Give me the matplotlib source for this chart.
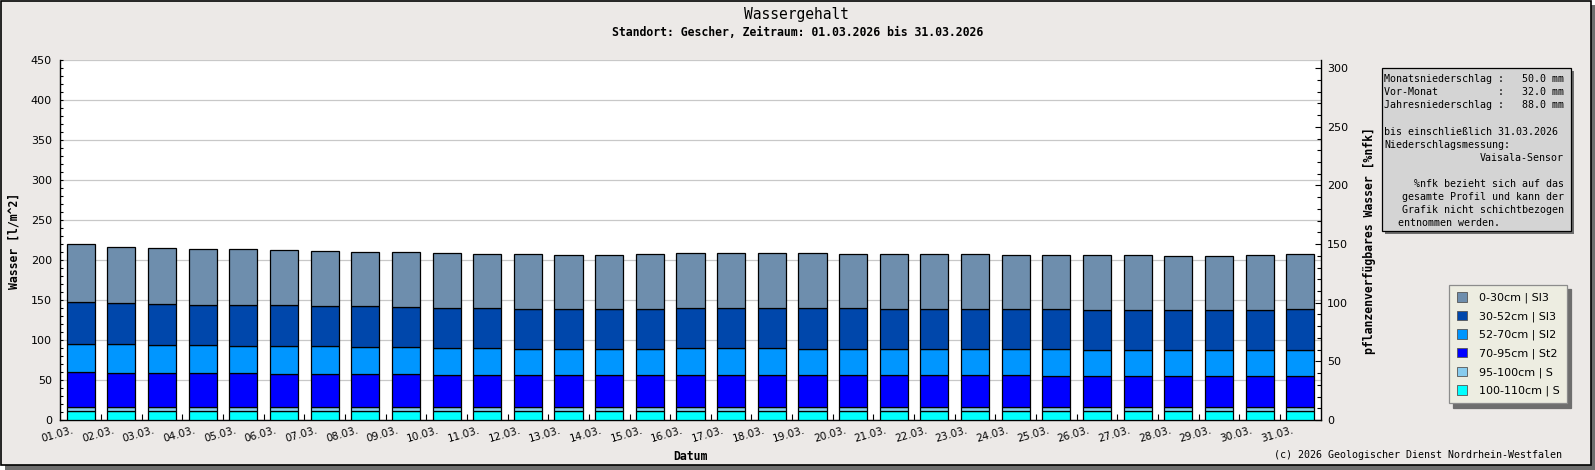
import matplotlib
matplotlib.use("Agg")
import numpy as np
import matplotlib.pyplot as plt
import matplotlib.transforms as mtransforms
from matplotlib.patches import Rectangle, Patch
from matplotlib.ticker import MultipleLocator

# --- data (l/m^2 per layer, bottom to top)
days = list(range(1, 32))
day_labels = ["%02d.03." % d for d in days]

layer_labels = ["100-110cm | S", "95-100cm | S", "70-95cm | St2",
                "52-70cm | Sl2", "30-52cm | Sl3", "0-30cm | Sl3"]
layer_colors = ["#00FFFF", "#88CCEE", "#0000FF", "#0096FF", "#0047AB", "#6E8EAD"]

l_100_110 = [11.0, 11.0, 11.0, 11.0, 11.0, 11.0, 11.0, 11.0, 11.0, 11.0, 11.0,
             11.0, 11.0, 11.0, 11.0, 11.0, 11.0, 11.0, 11.0, 11.0, 11.0, 11.0,
             11.0, 11.0, 11.0, 11.0, 11.0, 11.0, 11.0, 11.0, 11.0]
l_95_100 = [5.0, 5.0, 5.0, 5.0, 5.0, 5.0, 5.0, 5.0, 5.0, 5.0, 5.0,
            5.0, 5.0, 5.0, 5.0, 5.0, 5.0, 5.0, 5.0, 5.0, 5.0, 5.0,
            5.0, 5.0, 5.0, 5.0, 5.0, 5.0, 5.0, 5.0, 5.0]
l_70_95 = [44.0, 43.0, 43.0, 43.0, 43.0, 41.5, 41.5, 41.5, 41.1, 39.8, 39.8,
           39.8, 39.8, 39.8, 39.8, 39.8, 39.8, 39.8, 39.8, 39.8, 39.8, 39.8,
           39.8, 39.8, 38.6, 38.6, 38.6, 38.6, 38.6, 38.6, 38.6]
l_52_70 = [34.6, 35.6, 34.5, 34.5, 33.5, 35.0, 35.0, 33.5, 33.7, 33.8, 33.8,
           32.5, 32.5, 32.5, 32.5, 33.8, 33.8, 33.8, 32.5, 32.5, 32.5, 32.5,
           32.5, 32.5, 33.7, 32.5, 32.5, 32.5, 32.5, 32.5, 32.5]
l_30_52 = [52.4, 51.4, 51.5, 50.2, 51.2, 51.2, 49.5, 51.0, 50.0, 50.0, 50.0,
           50.0, 50.0, 50.0, 50.0, 50.0, 50.0, 50.0, 51.3, 51.3, 50.0, 50.0,
           50.0, 50.0, 50.0, 50.0, 50.0, 50.0, 50.0, 50.0, 51.2]
l_0_30 = [73.0, 70.0, 70.0, 70.3, 70.3, 68.8, 69.5, 68.0, 68.8, 68.7, 67.5,
          68.8, 67.5, 67.5, 68.8, 68.7, 68.7, 68.7, 68.7, 67.5, 68.8, 68.8,
          68.8, 67.5, 67.5, 68.7, 68.7, 67.5, 67.5, 68.7, 68.8]
layers = [l_100_110, l_95_100, l_70_95, l_52_70, l_30_52, l_0_30]

info_left = ["Monatsniederschlag :   50.0 mm",
             "Vor-Monat          :   32.0 mm",
             "Jahresniederschlag :   88.0 mm",
             "",
             "bis einschließlich 31.03.2026",
             "Niederschlagsmessung:"]
info_right = ["Vaisala-Sensor", "", "%nfk bezieht sich auf das",
              "gesamte Profil und kann der", "Grafik nicht schichtbezogen"]
info_last = "entnommen werden."

# --- layout helpers (pixel coords from top-left)
W, H = 1595, 470
BG = "#ECE9E7"
MONO = "DejaVu Sans Mono"


def fx(px):
    return px / W


def fy(py):
    return 1 - py / H


plt.rcParams["font.family"] = "DejaVu Sans"
fig = plt.figure(figsize=(W / 100, H / 100), dpi=100)
fig.patch.set_facecolor("white")

# frame with shadow
fig.patches.append(Rectangle((fx(5), fy(470)), fx(1590), 465 / H, transform=fig.transFigure,
                             facecolor="#6E6E6E", edgecolor="none", zorder=-3))
fig.patches.append(Rectangle((fx(0.5), fy(465)), fx(1590), 464.5 / H, transform=fig.transFigure,
                             facecolor=BG, edgecolor="black", lw=1.2, zorder=-2))

ax = fig.add_axes([fx(60.3), fy(420), (1320.7 - 60.3) / W, 360 / H])
ax.set_facecolor("white")
ax.set_axisbelow(True)

bottom = np.zeros(len(days))
for vals, col in zip(layers, layer_colors):
    ax.bar(days, vals, width=0.69, bottom=bottom, color=col,
           edgecolor="black", linewidth=0.9, zorder=3)
    bottom += np.array(vals)

ax.set_xlim(0.5, 31.5)
ax.set_ylim(0, 450)
ax.yaxis.set_major_locator(MultipleLocator(50))
ax.yaxis.set_minor_locator(MultipleLocator(10))
ax.yaxis.grid(True, which="major", color="#C8C8C8", lw=0.9)
ax.tick_params(axis="y", which="both", direction="in", length=2.5, width=0.8,
               labelsize=8, pad=6)
ax.set_xticks(days)
ax.set_xticklabels(day_labels, rotation=16, ha="right", fontsize=7.5)
ax.set_xticks(np.arange(1.5, 31, 1.0), minor=True)
ax.tick_params(axis="x", which="major", length=0, pad=4)
ax.tick_params(axis="x", which="minor", direction="in", length=4, width=0.8)
offset = mtransforms.ScaledTranslation(-6 / 100, 0, fig.dpi_scale_trans)
for lab in ax.get_xticklabels():
    lab.set_transform(lab.get_transform() + offset)
for s in ["top", "right"]:
    ax.spines[s].set_visible(False)
ax.spines["left"].set_linewidth(1.0)
ax.spines["bottom"].set_linewidth(1.0)

ax2 = ax.twinx()
ax2.set_ylim(0, 307)
ax2.yaxis.set_major_locator(MultipleLocator(50))
ax2.yaxis.set_minor_locator(MultipleLocator(10))
ax2.tick_params(axis="y", which="major", direction="in", length=4, width=0.8,
                labelsize=8, pad=4.5)
ax2.tick_params(axis="y", which="minor", direction="in", length=3, width=0.8)
for s in ["top", "left", "bottom"]:
    ax2.spines[s].set_visible(False)
ax2.spines["right"].set_linewidth(1.0)

# titles and axis labels
fig.text(fx(796), fy(15), "Wassergehalt", family=MONO, fontsize=10.5,
         ha="center", va="center")
fig.text(fx(798), fy(33), "Standort: Gescher, Zeitraum: 01.03.2026 bis 31.03.2026",
         family=MONO, fontsize=8.3, fontweight="bold", ha="center", va="center")
fig.text(fx(690), fy(457), "Datum", family=MONO, fontsize=8.3, fontweight="bold",
         ha="center", va="center")
fig.text(fx(14), fy(241), "Wasser [l/m^2]", family=MONO, fontsize=8.3,
         fontweight="bold", rotation=90, ha="center", va="center")
fig.text(fx(1369), fy(241), "pflanzenverfügbares Wasser [%nfk]", family=MONO,
         fontsize=8.3, fontweight="bold", rotation=90, ha="center", va="center")
fig.text(fx(1562), fy(455), "(c) 2026 Geologischer Dienst Nordrhein-Westfalen",
         family=MONO, fontsize=7.2, ha="right", va="center")

# info box
fig.patches.append(Rectangle((fx(1384.7), fy(234)), 189 / W, 162.7 / H,
                             transform=fig.transFigure, facecolor="#6E6E6E",
                             edgecolor="none", zorder=2))
fig.patches.append(Rectangle((fx(1381.7), fy(231)), 189 / W, 162.7 / H,
                             transform=fig.transFigure, facecolor="#D4D4D4",
                             edgecolor="black", lw=0.9, zorder=2))
line_h = 13.1
y0 = 79.3
for i, t in enumerate(info_left):
    fig.text(fx(1384), fy(y0 + i * line_h), t, family=MONO, fontsize=7.2,
             ha="left", va="center", zorder=3)
for i, t in enumerate(info_right):
    fig.text(fx(1564), fy(y0 + (6 + i) * line_h), t, family=MONO, fontsize=7.2,
             ha="right", va="center", zorder=3)
fig.text(fx(1398), fy(y0 + 11 * line_h), info_last, family=MONO, fontsize=7.2,
         ha="left", va="center", zorder=3)

# legend (top layer first)
handles = [Patch(facecolor=c, edgecolor="#555555", lw=0.6) for c in layer_colors[::-1]]
leg = fig.legend(handles, layer_labels[::-1], loc="upper left",
                 bbox_to_anchor=(fx(1449.3), fy(285)), fontsize=8,
                 frameon=True, fancybox=False, framealpha=1,
                 facecolor="#EDEDE1", edgecolor="#8C8C8C",
                 borderpad=0.65, handlelength=0.93, handleheight=0.93,
                 handletextpad=1.1, labelspacing=0.68, borderaxespad=0,
                 shadow={"ox": 3, "oy": -3, "color": "#6E6E6E", "alpha": 1})
leg.get_frame().set_linewidth(0.9)

fig.savefig("out.png", dpi=100)
